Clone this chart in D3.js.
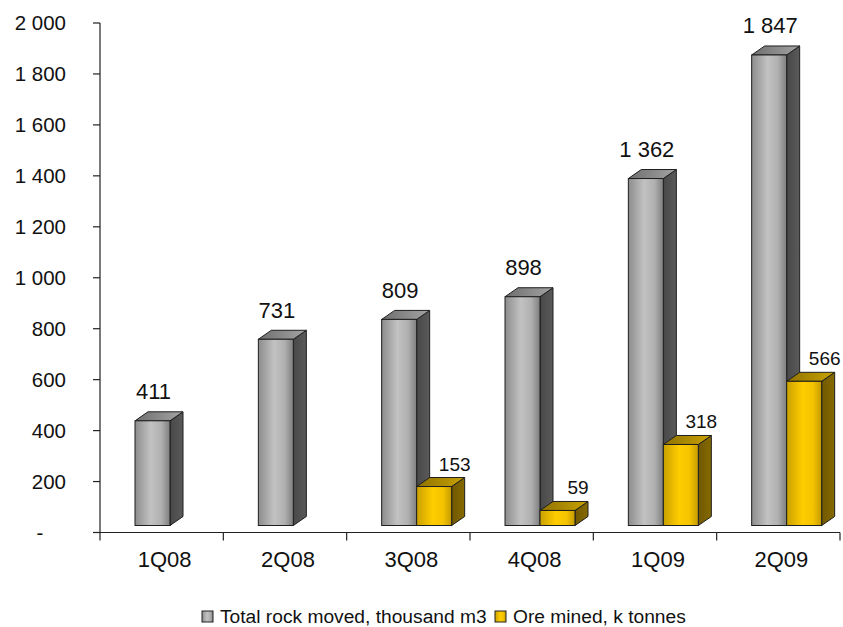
<!DOCTYPE html>
<html>
<head>
<meta charset="utf-8">
<script src="https://cdn.jsdelivr.net/npm/d3@7"></script>
<style>
  html, body { margin: 0; padding: 0; background: #fff; }
  svg { display: block; font-family: "Liberation Sans", Arial, sans-serif; }
</style>
</head>
<body>
<svg id="chart" width="843" height="627"></svg>
<script>
// Quarterly mining output
const quarters = ["1Q08", "2Q08", "3Q08", "4Q08", "1Q09", "2Q09"];
const rockMoved = [411, 731, 809, 898, 1362, 1847];       // thousand m3
const oreMined = [null, null, 153, 59, 318, 566];          // k tonnes
const yTicks = [0, 200, 400, 600, 800, 1000, 1200, 1400, 1600, 1800, 2000];
const seriesNames = ["Total rock moved, thousand m3", "Ore mined, k tonnes"];

const svg = d3.select("#chart");
const defs = svg.append("defs");

const margin = { left: 100, right: 3, top: 23, bottom: 94 };
const W = 843, H = 627;
const x = d3.scaleBand().domain(quarters).range([margin.left, W - margin.right]);
const xInner = d3.scaleBand().domain(["rock", "ore"]).range([35, 105]);
const y = d3.scaleLinear().domain([0, 2000]).range([H - margin.bottom - 0.5, margin.top]);

// 3D extrusion
const depthX = 13, depthY = 9, floorLift = 7;

function linGrad(id, stops, horizontal = true) {
  const g = defs.append("linearGradient").attr("id", id)
    .attr("x1", 0).attr("y1", 0)
    .attr("x2", horizontal ? 1 : 0).attr("y2", horizontal ? 0 : 1);
  stops.forEach(([o, c]) => g.append("stop").attr("offset", o).attr("stop-color", c));
}
linGrad("grayFront", [[0, "#8c8c8c"], [0.45, "#c2c2c2"], [0.75, "#b0b0b0"], [1, "#7e7e7e"]]);
linGrad("grayTop", [[0, "#6e6e6e"], [1, "#a4a4a4"]]);
linGrad("graySide", [[0, "#484848"], [1, "#5a5a5a"]]);
linGrad("goldFront", [[0, "#c9a000"], [0.45, "#ffcc00"], [0.75, "#f5c400"], [1, "#c49a00"]]);
linGrad("goldTop", [[0, "#8f7200"], [1, "#c9a200"]]);
linGrad("goldSide", [[0, "#705800"], [1, "#866a00"]]);

const styles = {
  rock: { front: "url(#grayFront)", top: "url(#grayTop)", side: "url(#graySide)" },
  ore: { front: "url(#goldFront)", top: "url(#goldTop)", side: "url(#goldSide)" }
};

function drawBar(g, key, q, v) {
  const x0 = x(q) + xInner(key), x1 = x0 + xInner.bandwidth();
  const yTop = y(v) - floorLift, yBot = y(0) - floorLift;
  const st = styles[key];
  const stroke = "#1e1e1e";
  g.append("polygon")
    .attr("points", [[x1, yTop], [x1 + depthX, yTop - depthY], [x1 + depthX, yBot - depthY], [x1, yBot]].join(" "))
    .attr("fill", st.side).attr("stroke", stroke).attr("stroke-width", 1).attr("stroke-linejoin", "round");
  g.append("polygon")
    .attr("points", [[x0, yTop], [x1, yTop], [x1 + depthX, yTop - depthY], [x0 + depthX, yTop - depthY]].join(" "))
    .attr("fill", st.top).attr("stroke", stroke).attr("stroke-width", 1).attr("stroke-linejoin", "round");
  g.append("rect")
    .attr("x", x0).attr("y", yTop).attr("width", x1 - x0).attr("height", yBot - yTop)
    .attr("fill", st.front).attr("stroke", stroke).attr("stroke-width", 1);
}

const fmt = v => v === 0 ? "-" : d3.format(",")(v).replace(/,/g, " ");

// Axes
const axisG = svg.append("g").attr("stroke", "#222").attr("stroke-width", 1.2);
axisG.append("line").attr("x1", margin.left).attr("x2", margin.left)
  .attr("y1", y(2000)).attr("y2", y(0) + 8);
axisG.append("line").attr("x1", margin.left - 7).attr("x2", W - margin.right)
  .attr("y1", y(0)).attr("y2", y(0));
yTicks.forEach(t => {
  axisG.append("line").attr("x1", margin.left - 7).attr("x2", margin.left)
    .attr("y1", y(t)).attr("y2", y(t));
});
quarters.forEach((q, i) => {
  const xx = x(q) + x.bandwidth();
  axisG.append("line").attr("x1", xx).attr("x2", xx).attr("y1", y(0)).attr("y2", y(0) + 8);
});

// Accounting-style labels: zero shown as a dash, padded in from the right
svg.append("g").selectAll("text").data(yTicks).join("text")
  .attr("x", d => d === 0 ? 40 : 66).attr("y", d => y(d)).attr("dy", "0.36em")
  .attr("text-anchor", d => d === 0 ? "middle" : "end")
  .attr("font-size", 20.5).attr("fill", "#111")
  .text(fmt);

svg.append("g").selectAll("text").data(quarters).join("text")
  .attr("x", d => x(d) + x.bandwidth() / 2 + 3).attr("y", 566.5)
  .attr("text-anchor", "middle").attr("font-size", 22).attr("fill", "#111")
  .text(d => d);

// Bars: rock behind, ore in front of its side face
const barsG = svg.append("g");
quarters.forEach((q, i) => {
  drawBar(barsG, "rock", q, rockMoved[i]);
  if (oreMined[i] != null) drawBar(barsG, "ore", q, oreMined[i]);
});

// Value labels
const labelsG = svg.append("g").attr("fill", "#111");
quarters.forEach((q, i) => {
  labelsG.append("text")
    .attr("x", x(q) + xInner("rock") + xInner.bandwidth() / 2 + 1)
    .attr("y", y(rockMoved[i]) - floorLift - 21.5)
    .attr("text-anchor", "middle").attr("font-size", 22)
    .text(fmt(rockMoved[i]));
  if (oreMined[i] != null) {
    labelsG.append("text")
      .attr("x", x(q) + xInner("ore") + xInner.bandwidth() / 2 + 20.5)
      .attr("y", y(oreMined[i]) - floorLift - 16)
      .attr("text-anchor", "middle").attr("font-size", 19)
      .text(fmt(oreMined[i]));
  }
});

// Legend
const legend = svg.append("g");
const legendItems = [
  { name: seriesNames[0], fill: "url(#grayFront)", x: 202 },
  { name: seriesNames[1], fill: "url(#goldFront)", x: 495 }
];
legendItems.forEach(d => {
  legend.append("rect").attr("x", d.x).attr("y", 611).attr("width", 11).attr("height", 11)
    .attr("fill", d.fill).attr("stroke", "#222").attr("stroke-width", 1);
  legend.append("text").attr("x", d.x + 18).attr("y", 623)
    .attr("font-size", 19.2).attr("fill", "#111").text(d.name);
});
</script>
</body>
</html>
